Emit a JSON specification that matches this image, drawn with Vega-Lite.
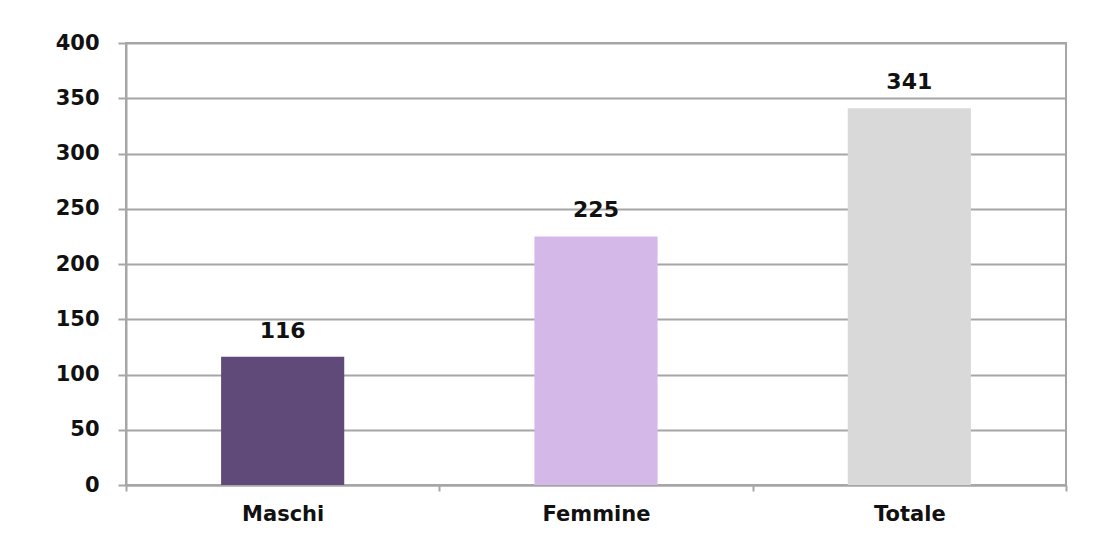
{
  "$schema": "https://vega.github.io/schema/vega-lite/v6.json",
  "width": 940,
  "height": 442,
  "autosize": {"type": "none"},
  "padding": {"left": 126, "top": 43, "right": 28, "bottom": 74},
  "background": "white",
  "data": {
    "values": [
      {"categoria": "Maschi", "valore": 116},
      {"categoria": "Femmine", "valore": 225},
      {"categoria": "Totale", "valore": 341}
    ]
  },
  "config": {
    "view": {"stroke": "#a6a6a6", "strokeWidth": 2},
    "font": "DejaVu Sans"
  },
  "encoding": {
    "x": {
      "field": "categoria",
      "type": "nominal",
      "sort": ["Maschi", "Femmine", "Totale"],
      "scale": {"paddingInner": 0, "paddingOuter": 0},
      "axis": {
        "title": null,
        "labelAngle": 0,
        "labelFont": "DejaVu Sans",
        "labelFontWeight": "bold",
        "labelFontSize": 21,
        "labelColor": "#111111",
        "labelPadding": 12,
        "domainColor": "#a6a6a6",
        "domainWidth": 2,
        "ticks": true,
        "tickBand": "extent",
        "tickSize": 6,
        "tickColor": "#a6a6a6",
        "tickWidth": 2,
        "grid": false
      }
    },
    "y": {
      "field": "valore",
      "type": "quantitative",
      "scale": {"domain": [0, 400], "nice": false},
      "axis": {
        "title": null,
        "values": [0, 50, 100, 150, 200, 250, 300, 350, 400],
        "labelFont": "DejaVu Sans",
        "labelFontWeight": "bold",
        "labelFontSize": 21,
        "labelColor": "#111111",
        "labelPadding": 19,
        "tickSize": 8,
        "tickColor": "#a6a6a6",
        "tickWidth": 2,
        "domainColor": "#a6a6a6",
        "domainWidth": 2,
        "gridColor": "#a6a6a6",
        "gridWidth": 2,
        "gridOpacity": 1
      }
    }
  },
  "layer": [
    {
      "mark": {"type": "bar", "width": {"band": 0.393}},
      "encoding": {
        "color": {
          "field": "categoria",
          "type": "nominal",
          "scale": {
            "domain": ["Maschi", "Femmine", "Totale"],
            "range": ["#5f4a79", "#d4b9e8", "#d9d9d9"]
          },
          "legend": null
        }
      }
    },
    {
      "mark": {
        "type": "text",
        "baseline": "bottom",
        "dy": -14,
        "font": "DejaVu Sans",
        "fontWeight": "bold",
        "fontSize": 22,
        "color": "#111111"
      },
      "encoding": {
        "text": {"field": "valore", "type": "quantitative"}
      }
    }
  ]
}
